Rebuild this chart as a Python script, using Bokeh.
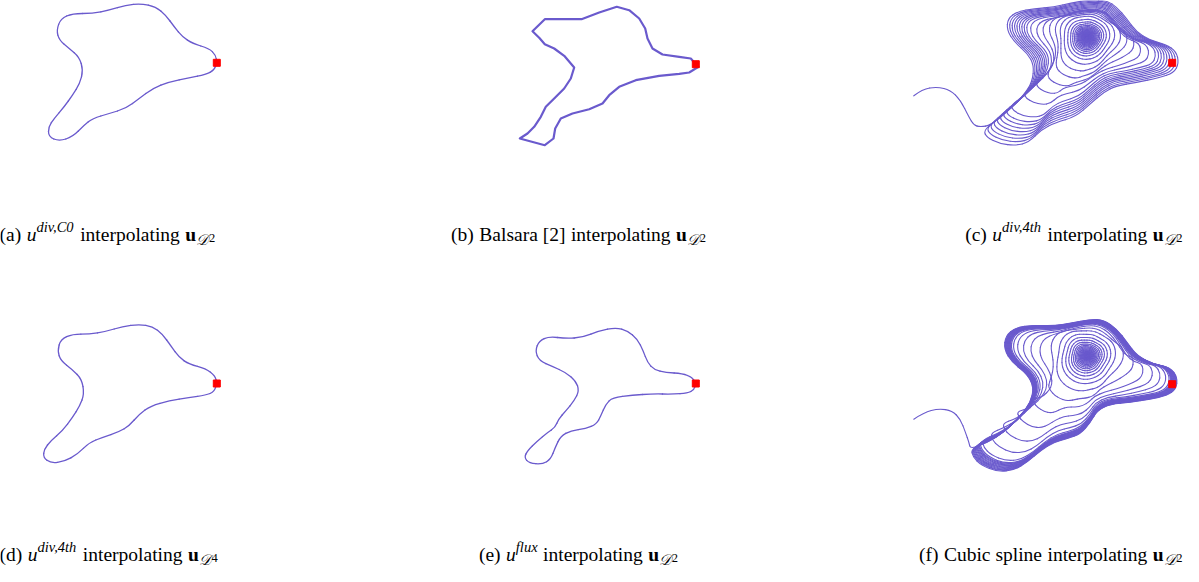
import numpy as np
from bokeh.plotting import figure
from bokeh.layouts import row, column
from bokeh.models import Range1d, Label
from bokeh.embed import file_html
from bokeh.resources import INLINE

LINE = "#6a5acd"
FONT = "Liberation Serif"

# ---------------- data (panel-local coordinates, y downward) ----------------
# (a) u^{div,C0}
a_x = [224.3, 223.3, 216.7, 200, 190, 181.7, 173.3, 163.3, 148.3, 133.3, 116.7, 100, 80, 68.3, 64, 66.7,
       76.7, 86.7, 90.7, 87.3, 80, 71.7, 61.7, 56, 56, 66.7, 80, 91.7, 100, 116.7, 133.3, 146.7, 160,
       176.7, 196.7, 213.3, 221.7]
a_y = [64.3, 56.7, 50, 45, 38.3, 28.3, 16.7, 8.3, 5, 6.7, 11.7, 15, 15, 20, 31.7, 41.7,
       50, 58.3, 71.7, 85, 96.7, 108.3, 120, 128.3, 138.3, 142.7, 138.3, 126.7, 120, 115, 110, 100, 90,
       83.3, 79.3, 76, 71.7]
a_start = (224.3, 64.3)

# (b) Balsara
b_x = [223.3, 218.3, 206.7, 190, 180, 175, 172.7, 166.7, 156.7, 144.3, 126.7, 109, 90, 72.3, 60, 66.7,
       72.3, 81.7, 91.7, 101.7, 98.3, 91.7, 81.7, 73.3, 68.3, 61.7, 55, 47.3, 72.3, 81, 82.7, 88.3,
       100, 116.7, 130, 136.7, 146.7, 163.3, 186.7, 206.7, 216.7, 226, 223.3]
b_y = [65.7, 60, 58.3, 56, 50, 40, 30, 20, 11.7, 8.3, 14, 20.7, 20.7, 20.7, 32.7, 39.3,
       45.7, 50, 57.3, 69, 80, 90, 100, 108.3, 118.3, 128.3, 135, 140, 146.7, 140, 130, 120,
       115, 110.7, 105, 96.7, 88.3, 81.7, 77.3, 75.3, 74, 68.3, 65.7]
b_start = (223.3, 65.7)

# (c) u^{div,4th}, D2 : outer loop, centre, loop scales, tail
c_outer_x = [100, 116.7, 133.3, 141.7, 143.3, 136.7, 123.3, 116, 116.7, 126.7, 143.3, 163.3, 180, 200,
             216.7, 226.7, 236.7, 246.7, 260, 276.7, 287.3, 290, 285, 270, 246.7, 226.7, 213.3, 200,
             185, 163.3, 150, 136.7, 123.3, 106.7, 93.3, 90]
c_outer_y = [126.7, 113.3, 96.7, 83.3, 66.7, 55, 43.3, 31.7, 20, 12.7, 10, 8.3, 4, 1,
             1.7, 8.3, 20, 33.3, 41.7, 46, 53.3, 65, 75, 80, 85, 88.3, 95, 106.7,
             120, 126.7, 133.3, 146.7, 150, 148.3, 141.7, 135]
c_center = (196.7, 38.3)
c_scales = [1.0, 0.97, 0.94, 0.91, 0.88, 0.85, 0.82, 0.79, 0.76, 0.72, 0.65, 0.58, 0.51, 0.44,
            0.38, 0.32, 0.27, 0.23, 0.2, 0.175, 0.155, 0.138, 0.123, 0.11, 0.098, 0.087, 0.077,
            0.068, 0.059, 0.051, 0.043, 0.035, 0.028, 0.021, 0.014, 0.007]
c_tail_x = [23.3, 31.7, 46.7, 60, 70, 78.3, 83.3, 90]
c_tail_y = [97.3, 90.7, 88.3, 91.7, 101.7, 118.3, 126.7, 128.5]
c_start = (281.7, 64.3)

# (d) u^{div,4th}, D4
d_x = [224.3, 222.7, 213.3, 196.7, 186.7, 178.3, 170, 160, 146.7, 130, 113.3, 96.7, 80, 68.3, 65, 68.3,
       80, 89.3, 91.7, 87.3, 80, 70, 58.3, 51.7, 50.7, 58.3, 71.7, 85, 96.7, 110, 126.7, 136.7, 146.7,
       158.3, 176.7, 196.7, 213.3, 221.7]
d_y = [71, 63.3, 56, 51.7, 45, 33.3, 21.7, 14, 11.7, 14, 19, 21.7, 21.7, 26.7, 38.3, 48.3,
       57.3, 66.7, 81.7, 93.3, 105, 118.3, 128.3, 136.7, 145, 150.7, 149, 141.7, 130, 125, 119.3, 113.3,
       101.7, 93.3, 88.3, 85, 82.7, 79.3]
d_start = (224.3, 71)

# (e) u^{flux}
e_x = [223.3, 220, 210, 193.3, 181.7, 175, 170.7, 165, 155, 143.3, 126.7, 110, 93.3, 76.7, 66.7, 62.7,
       66.7, 80, 93.3, 103.3, 106.7, 101.7, 93.3, 86, 82.7, 75, 65, 55, 51.7, 56.7, 70, 78.3, 82.7,
       88.3, 98.3, 113.3, 124, 128.3, 133.3, 140, 160, 180, 200, 215, 221.7]
e_y = [71, 65, 61, 60, 57.3, 50, 38.3, 26.7, 18.3, 15, 18.3, 25, 26, 24, 28.3, 38.3,
       48.3, 54, 60, 68.3, 78.3, 88.3, 98.3, 106.7, 115, 120, 128.3, 138.3, 145, 150.7, 151.7, 146.7, 135,
       123.3, 118.3, 116, 111.7, 103.3, 91.7, 85, 82.7, 81.3, 81.7, 80.7, 77.3]
e_start = (223.3, 71)

# (f) cubic spline
f_outer_x = [80, 96.7, 113.3, 130, 140, 143.3, 136.7, 121.7, 113.3, 115, 125, 143.3, 163.3, 180, 200,
             213.3, 226.7, 236.7, 246.7, 263.3, 280, 287.3, 286, 276.7, 260, 240, 220, 206.7, 200, 190,
             176.7, 163.3, 150, 136.7, 123.3, 106.7, 90, 81.7]
f_outer_y = [146.7, 140, 130, 113.3, 100, 85, 71.7, 60, 46.7, 33.3, 25, 22.7, 23.3, 20.7, 16.7,
             17.3, 26.7, 40, 53.3, 61.7, 65, 75, 86.7, 93.3, 96.7, 100, 101.7, 108.3, 120, 131.7,
             136.7, 140, 148.3, 160, 168.3, 170, 163.3, 155]
f_center = (196.7, 53.3)
f_scales = [1.0, 0.994, 0.988, 0.982, 0.976, 0.97, 0.964, 0.958, 0.952, 0.946, 0.94, 0.934, 0.928,
            0.92, 0.9, 0.86, 0.8, 0.72, 0.62, 0.5, 0.4, 0.33, 0.28, 0.24, 0.205, 0.178, 0.155, 0.136,
            0.119, 0.104, 0.09, 0.077, 0.065, 0.054, 0.044, 0.035, 0.026, 0.018, 0.01]
f_tail_x = [23.3, 33.3, 48.3, 61.7, 70, 75, 78.5]
f_tail_y = [116.7, 110, 106, 108.3, 116.7, 130, 140]
f_start = (281.7, 81.7)

captions = {
    "a": [("(a)", "rm"), ("", "sp"), ("u", "it"), ("div,C0", "sup"), ("", "sp"), ("interpolating", "rm"),
          ("", "sp"), ("u", "bf"), ("\U0001D49F", "sub"), ("2", "num")],
    "b": [("(b)", "rm"), ("", "sp"), ("Balsara [2]", "rm"), ("", "sp"), ("interpolating", "rm"),
          ("", "sp"), ("u", "bf"), ("\U0001D49F", "sub"), ("2", "num")],
    "c": [("(c)", "rm"), ("", "sp"), ("u", "it"), ("div,4th", "sup"), ("", "sp"), ("interpolating", "rm"),
          ("", "sp"), ("u", "bf"), ("\U0001D49F", "sub"), ("2", "num")],
    "d": [("(d)", "rm"), ("", "sp"), ("u", "it"), ("div,4th", "sup"), ("", "sp"), ("interpolating", "rm"),
          ("", "sp"), ("u", "bf"), ("\U0001D49F", "sub"), ("4", "num")],
    "e": [("(e)", "rm"), ("", "sp"), ("u", "it"), ("flux", "sup"), ("", "sp"), ("interpolating", "rm"),
          ("", "sp"), ("u", "bf"), ("\U0001D49F", "sub"), ("2", "num")],
    "f": [("(f)", "rm"), ("", "sp"), ("Cubic spline", "rm"), ("", "sp"), ("interpolating", "rm"),
          ("", "sp"), ("u", "bf"), ("\U0001D49F", "sub"), ("2", "num")],
}

# ---------------- helpers ----------------
RM = {' ': 250, '(': 333, ')': 333, 'a': 444, 'b': 500, 'c': 444, 'd': 500, 'e': 444, 'f': 333, 'g': 500,
      'i': 278, 'l': 278, 'n': 500, 'o': 500, 'p': 500, 'r': 333, 's': 389, 't': 278, 'u': 500, 'B': 667,
      'C': 667, '[': 333, ']': 333, '2': 500, '4': 500}
IT = {'u': 500, 'd': 500, 'i': 278, 'v': 444, ',': 250, 'C': 667, '0': 500, '4': 500, 't': 278, 'h': 500,
      'f': 278, 'l': 278, 'x': 444}
BF = {'u': 556}
MAIN = 19.5
KINDS = {
    "rm": (MAIN, "normal", 0, RM),
    "it": (MAIN, "italic", 0, IT),
    "bf": (MAIN, "bold", 0, BF),
    "sup": (14.5, "italic", -8, IT),
    "sub": (15.0, "italic", 5, None),
    "num": (12.5, "normal", 3, RM),
}


def piece_width(text, kind):
    if kind == "sp":
        return 5.5
    size, _, _, table = KINDS[kind]
    if table is None:
        return 0.85 * size
    return sum(table.get(ch, 500) for ch in text) / 1000.0 * size


def add_caption(p, pieces, anchor, align, base):
    total = sum(piece_width(t, k) for t, k in pieces)
    x = anchor if align == "left" else (anchor - total / 2 if align == "center" else anchor - total)
    for t, k in pieces:
        w = piece_width(t, k)
        if k != "sp":
            size, style, dy, _ = KINDS[k]
            p.add_layout(Label(x=x, y=base + dy, text=t, text_font=FONT, text_font_size=f"{size}px",
                               text_font_style=style, text_baseline="alphabetic", text_align="left",
                               text_color="black"))
        x += w


def smooth_closed(p, xs, ys, **kw):
    x = np.asarray(xs, float)
    y = np.asarray(ys, float)
    mx = (x + np.roll(x, -1)) / 2
    my = (y + np.roll(y, -1)) / 2
    p.quadratic(x0=np.roll(mx, 1), y0=np.roll(my, 1), x1=mx, y1=my, cx=x, cy=y, **kw)


def smooth_open(p, xs, ys, **kw):
    x = np.asarray(xs, float)
    y = np.asarray(ys, float)
    n = len(x)
    mx = (x[:-1] + x[1:]) / 2
    my = (y[:-1] + y[1:]) / 2
    x0 = mx[0:n - 2].copy(); y0 = my[0:n - 2].copy()
    x1 = mx[1:n - 1].copy(); y1 = my[1:n - 1].copy()
    x0[0], y0[0] = x[0], y[0]
    x1[-1], y1[-1] = x[-1], y[-1]
    p.quadratic(x0=x0, y0=y0, x1=x1, y1=y1, cx=x[1:n - 1], cy=y[1:n - 1], **kw)


def spiral_path(tail_x, tail_y, ox, oy, center, scales, s_hi, s_ang, s_lo, alpha_min):
    """Loops of the traced outer orbit drawn around the centre; inner loops become rounder."""
    ox = np.asarray(ox, float); oy = np.asarray(oy, float)
    cx, cy = center
    rx, ry = ox - cx, oy - cy
    r = np.hypot(rx, ry)
    th = np.unwrap(np.arctan2(ry, rx))
    n = len(ox)
    sgn = 1.0 if (th[-1] - th[0]) > 0 else -1.0
    th_u = th[0] + sgn * 2 * np.pi * np.arange(n) / n
    rm = np.exp(np.log(r).mean())
    px = list(tail_x); py = list(tail_y)

    def pt(s, j):
        t = min(1.0, max(0.0, (s - s_lo) / (s_hi - s_lo)))
        ta = min(1.0, max(0.0, (s - s_lo) / (s_ang - s_lo)))
        a = alpha_min + (1 - alpha_min) * t
        rr = s * rm * (r[j] / rm) ** a
        ang = ta * th[j] + (1 - ta) * th_u[j]
        return cx + rr * np.cos(ang), cy + rr * np.sin(ang)

    for k in range(len(scales) - 1):
        for j in range(n):
            s = scales[k] + (scales[k + 1] - scales[k]) * j / n
            X, Y = pt(s, j)
            px.append(X); py.append(Y)
    X, Y = pt(scales[-1], 0)
    px.append(X); py.append(Y)
    return px, py


def make_fig(L, R, T, B, ox, oy, dx, dy):
    p = figure(width=R - L, height=B - T,
               x_range=Range1d(L - dx - ox, R - dx - ox), y_range=Range1d(B - dy - oy, T - dy - oy),
               output_backend="svg", toolbar_location=None, min_border=0,
               x_axis_location=None, y_axis_location=None, title=None)
    p.grid.visible = False
    p.outline_line_color = None
    p.background_fill_color = "white"
    p.border_fill_color = "white"
    return p


def marker(p, pt):
    p.scatter([pt[0]], [pt[1]], marker="square", size=7, color="red", line_color="red")


cols = [(8, 402), (402, 796), (796, 1191)]
rows = [(8, 291), (291, 574)]
col_dx = [0, 0, -2]
row_dy = [6, 0]
origins = {"a": (0, 0), "b": (480, 0), "c": (900, 0), "d": (0, 320), "e": (480, 320), "f": (900, 310)}
figs = {}
for r, keys in enumerate([("a", "b", "c"), ("d", "e", "f")]):
    for c, key in enumerate(keys):
        ox, oy = origins[key]
        figs[key] = make_fig(cols[c][0], cols[c][1], rows[r][0], rows[r][1], ox, oy, col_dx[c], row_dy[r])

kw_thin = dict(line_color=LINE, line_width=1.3, line_cap="round")
smooth_closed(figs["a"], a_x, a_y, **kw_thin)
marker(figs["a"], a_start)

figs["b"].line(b_x, b_y, line_color=LINE, line_width=2.2, line_join="round")
marker(figs["b"], b_start)

cpx, cpy = spiral_path(c_tail_x, c_tail_y, c_outer_x, c_outer_y, c_center, c_scales, 0.73, 0.6, 0.3, 0.15)
smooth_open(figs["c"], cpx, cpy, line_color=LINE, line_width=1.1, line_cap="round")
marker(figs["c"], c_start)

smooth_closed(figs["d"], d_x, d_y, **kw_thin)
marker(figs["d"], d_start)

smooth_closed(figs["e"], e_x, e_y, **kw_thin)
marker(figs["e"], e_start)

fpx, fpy = spiral_path(f_tail_x, f_tail_y, f_outer_x, f_outer_y, f_center, f_scales, 0.9, 0.6, 0.35, 0.15)
smooth_open(figs["f"], fpx, fpy, line_color=LINE, line_width=1.1, line_cap="round")
marker(figs["f"], f_start)

# captions (reference baseline at y=242 / 562)
cap_pos = {"a": ("left", 7), "b": ("center", 106), "c": ("right", 292),
           "d": ("left", 7), "e": ("center", 106), "f": ("right", 292)}
cap_base = {"a": 236, "b": 236, "c": 236, "d": 242, "e": 242, "f": 252}
for key, pieces in captions.items():
    align, anchor = cap_pos[key]
    add_caption(figs[key], pieces, anchor, align, cap_base[key])

layout = column(row(figs["a"], figs["b"], figs["c"]), row(figs["d"], figs["e"], figs["f"]))
open("out.html", "w").write(file_html(layout, INLINE))
